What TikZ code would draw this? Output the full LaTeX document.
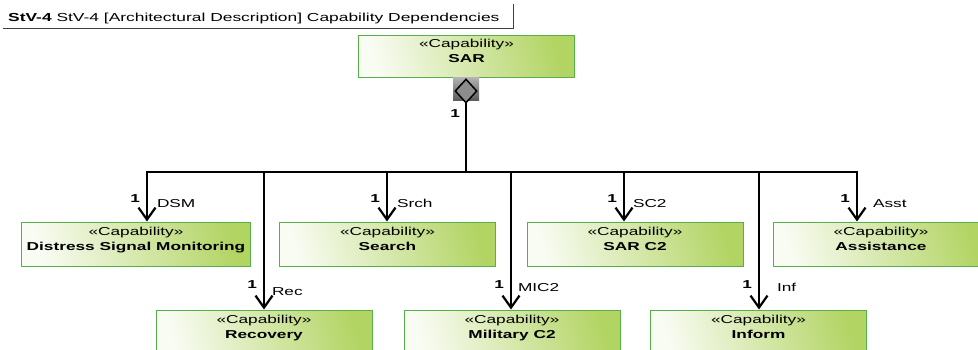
\documentclass[tikz,border=0pt]{standalone}
\usepackage{fontspec}
\setmainfont{Liberation Sans}
\newfontfamily\wide[FakeStretch=1.5]{Liberation Sans}
\usepackage{tikz}
\usetikzlibrary{positioning,shapes.geometric,arrows.meta,calc}
\definecolor{capline}{HTML}{55B04A}
\definecolor{capfill}{HTML}{B2D463}
\newcommand{\capab}[1]{«Capability»\\\textbf{#1}}
\tikzset{
  capbox/.style={rectangle,draw=capline,line width=1pt,left color=capfill!8,
    right color=capfill,shading angle=105,align=center,inner xsep=5pt,
    font=\wide\fontsize{11.5}{15}\selectfont,minimum width=216pt,
    minimum height=44pt,text depth=10pt},
  bar/.style={draw=black,line width=2pt,line cap=rect},
  fl/.style={-{Straight Barb[length=12pt,width=17pt,line width=2.2pt]},
    draw=black,line width=2pt},
  mult/.style={font=\wide\bfseries\fontsize{11.5}{12}\selectfont,inner sep=1pt},
  role/.style={font=\wide\fontsize{11.5}{12}\selectfont,inner sep=1pt},
}
\begin{document}
\begin{tikzpicture}[x=1pt,y=-1pt]
  \clip (0,0) rectangle (978,349);
  \fill[white] (0,0) rectangle (978,349);
  % frame title
  \node[anchor=base west,inner sep=0pt,font=\wide\fontsize{11.6}{13}\selectfont]
    (title) at (8,21) {\textbf{StV-4} StV-4 [Architectural Description] Capability Dependencies};
  \coordinate (tl) at (3,28.5);
  \coordinate (tr) at (513,28.5);
  \draw[black!75,line width=0.8pt] (tl) -- (tr) -- ++(0,-25);
  % capabilities
  \node[capbox,minimum height=42pt] (sar) at (466.5,56) {\capab{SAR}};
  \node[capbox] (dsm)  at (136,244)   {\capab{Distress Signal Monitoring}};
  \node[capbox] (srch) at (387.5,244) {\capab{Search}};
  \node[capbox] (sc2)  at (635,244)   {\capab{SAR C2}};
  \node[capbox] (asst) at (881,244)   {\capab{Assistance}};
  \node[capbox] (rec)  at (264,332)   {\capab{Recovery}};
  \node[capbox] (mic2) at (512,332)   {\capab{Military C2}};
  \node[capbox] (inf)  at (758.5,332) {\capab{Inform}};
  % aggregation end
  \node[rectangle,minimum width=26pt,minimum height=23pt,inner sep=0pt,
    top color=black!30,bottom color=black!65] (aggbg) at (466,89) {};
  \node[diamond,draw=black,line width=1.5pt,fill=black!45,inner sep=0pt,
    minimum width=22pt,minimum height=24pt] (agg) at (466,91) {};
  % bus
  \coordinate (bus)   at (466,172);
  \coordinate (tdsm)  at (147,172);
  \coordinate (trec)  at (264,172);
  \coordinate (tsrch) at (387,172);
  \coordinate (tmic2) at (511,172);
  \coordinate (tsc2)  at (624,172);
  \coordinate (tinf)  at (759,172);
  \coordinate (tasst) at (857,172);
  \draw[bar] (agg.south) -- (bus) node[mult,pos=.14,left=4pt] {1};
  \draw[bar] (tdsm) -- (tasst);
  % dependencies
  \draw[fl] (tdsm) -- (tdsm |- dsm.north)
    node[mult,pos=.54,left=5pt] {1} node[role,pos=.64,right=8pt] {DSM};
  \draw[fl] (tsrch) -- (tsrch |- srch.north)
    node[mult,pos=.54,left=5pt] {1} node[role,pos=.64,right=8pt] {Srch};
  \draw[fl] (tsc2) -- (tsc2 |- sc2.north)
    node[mult,pos=.54,left=5pt] {1} node[role,pos=.64,right=7pt] {SC2};
  \draw[fl] (tasst) -- (tasst |- asst.north)
    node[mult,pos=.54,left=5pt] {1} node[role,pos=.64,right=14pt] {Asst};
  \draw[fl] (trec) -- (trec |- rec.north)
    node[mult,pos=.82,left=5pt] {1} node[role,pos=.87,right=6pt] {Rec};
  \draw[fl] (tmic2) -- (tmic2 |- mic2.north)
    node[mult,pos=.82,left=5pt] {1} node[role,pos=.84,right=5pt] {MIC2};
  \draw[fl] (tinf) -- (tinf |- inf.north)
    node[mult,pos=.82,left=5pt] {1} node[role,pos=.84,right=16pt] {Inf};
\end{tikzpicture}
\end{document}
